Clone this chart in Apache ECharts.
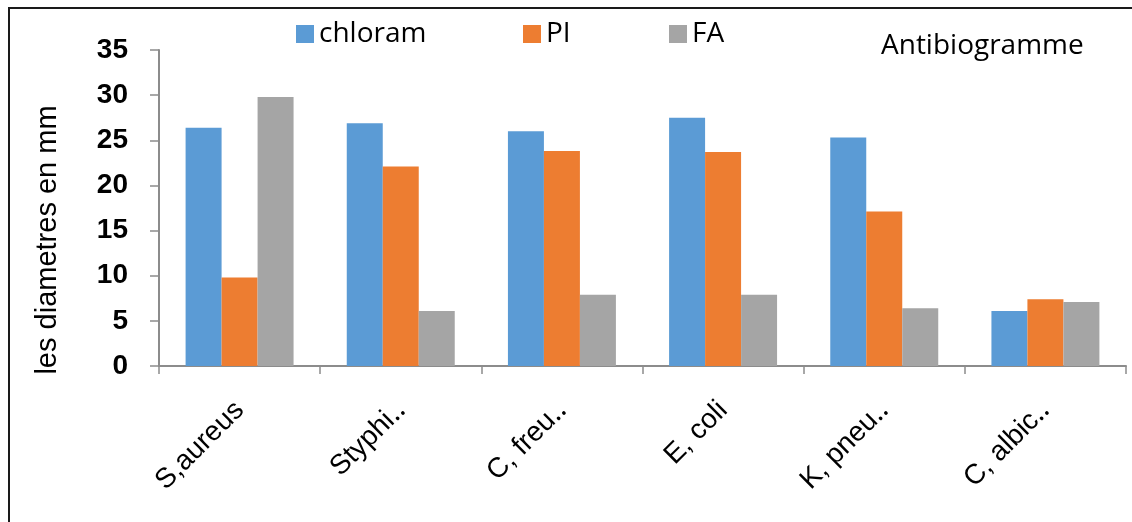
<!DOCTYPE html>
<html>
<head>
<meta charset="utf-8">
<script src="https://cdn.jsdelivr.net/npm/echarts@6/dist/echarts.min.js"></script>
<style>
html,body{margin:0;padding:0;background:#fff;}
#chart{width:1132px;height:522px;}
</style>
</head>
<body>
<div id="chart"></div>
<script>
const categories = ["S,aureus", "Styphi‥", "C, freu‥", "E, coli", "K, pneu‥", "C, albic‥"];
const seriesNames = ["chloram", "PI", "FA"];
const chloram = [26.4, 26.9, 26.0, 27.5, 25.3, 6.1];
const PI = [9.8, 22.1, 23.8, 23.7, 17.1, 7.4];
const FA = [29.8, 6.1, 7.9, 7.9, 6.4, 7.1];
const yTicks = [0, 5, 10, 15, 20, 25, 30, 35];

const chart = echarts.init(document.getElementById('chart'));
const axisGray = '#8c8c8c';
const legendFont = {fontFamily: 'Open Sans', fontSize: 28, color: '#000'};
const legendLefts = [296, 523, 669];
chart.setOption({
  animation: false,
  backgroundColor: '#fff',
  title: {
    text: 'Antibiogramme',
    left: 876, top: 27,
    textStyle: {fontFamily: 'Open Sans', fontWeight: 'normal', fontSize: 28, color: '#000'}
  },
  legend: seriesNames.map((n, i) => ({
    left: legendLefts[i], top: 20,
    itemWidth: 18, itemHeight: 18, itemGap: 0,
    icon: 'rect', padding: 0,
    textStyle: legendFont,
    data: [n]
  })),
  graphic: [{
    type: 'rect', silent: true,
    shape: {x: 9, y: 8, width: 1300, height: 700},
    style: {fill: 'none', stroke: '#1a1a1a', lineWidth: 2}
  }, {
    type: 'text', silent: true,
    x: 48, y: 240, rotation: Math.PI / 2,
    style: {
      text: 'les diametres en mm',
      font: '29px "Liberation Sans"',
      fill: '#000',
      textAlign: 'center', textVerticalAlign: 'middle'
    }
  }],
  grid: {left: 159, right: 6, top: 50, bottom: 156, containLabel: false},
  xAxis: {
    type: 'category',
    data: categories,
    axisLine: {lineStyle: {color: axisGray, width: 2}},
    axisTick: {show: true, length: 8, lineStyle: {color: axisGray, width: 1.5}},
    axisLabel: {
      rotate: 45, margin: 40, interval: 0,
      fontFamily: 'Liberation Sans', fontSize: 28, color: '#000'
    }
  },
  yAxis: {
    type: 'value',
    min: yTicks[0], max: yTicks[yTicks.length - 1], interval: 5,
    axisLine: {show: true, lineStyle: {color: axisGray, width: 2}},
    axisTick: {show: true, length: 9, lineStyle: {color: axisGray, width: 1.5}},
    splitLine: {show: false},
    axisLabel: {
      margin: 31,
      fontFamily: 'Liberation Sans', fontWeight: 'bold', fontSize: 28, color: '#000'
    }
  },
  series: [
    {name: 'chloram', type: 'bar', data: chloram, barGap: '0%', barCategoryGap: '33%', itemStyle: {color: '#5B9BD5'}},
    {name: 'PI', type: 'bar', data: PI, barGap: '0%', barCategoryGap: '33%', itemStyle: {color: '#ED7D31'}},
    {name: 'FA', type: 'bar', data: FA, barGap: '0%', barCategoryGap: '33%', itemStyle: {color: '#A5A5A5'}}
  ]
});
</script>
</body>
</html>
